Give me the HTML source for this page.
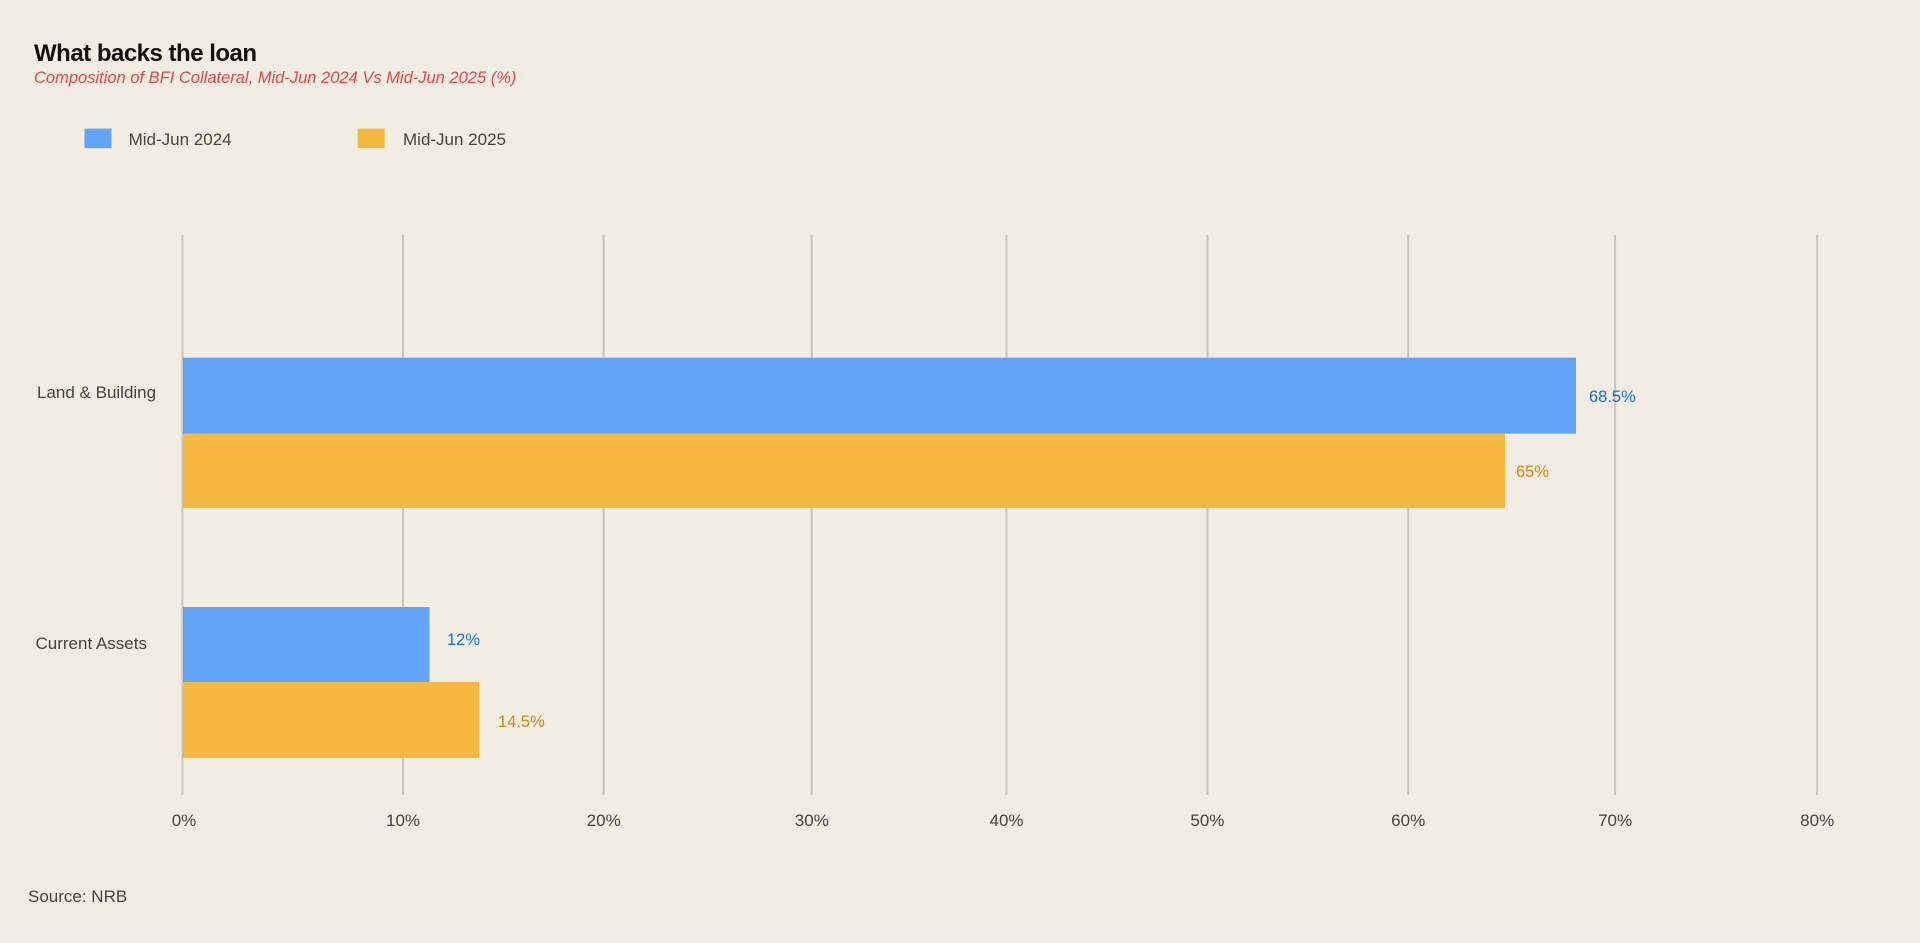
<!DOCTYPE html>
<html><head><meta charset="utf-8"><style>
html,body{margin:0;padding:0;background:#f2ede3;}
body{width:1920px;height:943px;overflow:hidden;position:relative;font-family:"Liberation Sans",sans-serif;}
</style></head><body>
<svg width="1920" height="943" xmlns="http://www.w3.org/2000/svg" style="position:absolute;left:0;top:0">
<rect width="1920" height="943" fill="#f2ede3"/>
<text x="34" y="61" font-family="Liberation Sans" font-weight="bold" font-size="24" fill="#111" letter-spacing="-0.5">What backs the loan</text>
<text x="34" y="83" font-family="Liberation Sans" font-style="italic" font-size="16.5" fill="#e2474b">Composition of BFI Collateral, Mid-Jun 2024 Vs Mid-Jun 2025 (%)</text>
<rect x="84.5" y="128.6" width="27" height="19.5" fill="#62a5f8"/>
<text x="128.6" y="145" font-size="17" fill="#444">Mid-Jun 2024</text>
<rect x="357.6" y="128.6" width="27" height="19.5" fill="#f5b841"/>
<text x="403" y="145" font-size="17" fill="#444">Mid-Jun 2025</text>
<g stroke="#c9c5bd" stroke-width="2">
<line x1="182.5" y1="235" x2="182.5" y2="795"/>
<line x1="403" y1="235" x2="403" y2="795"/>
<line x1="603.7" y1="235" x2="603.7" y2="795"/>
<line x1="811.8" y1="235" x2="811.8" y2="795"/>
<line x1="1006.5" y1="235" x2="1006.5" y2="795"/>
<line x1="1207.4" y1="235" x2="1207.4" y2="795"/>
<line x1="1408.2" y1="235" x2="1408.2" y2="795"/>
<line x1="1615.1" y1="235" x2="1615.1" y2="795"/>
<line x1="1817.2" y1="235" x2="1817.2" y2="795"/>
</g>
<g font-size="17" fill="#444" text-anchor="middle">
<text x="184" y="826">0%</text>
<text x="403" y="826">10%</text>
<text x="603.7" y="826">20%</text>
<text x="811.8" y="826">30%</text>
<text x="1006.5" y="826">40%</text>
<text x="1207.4" y="826">50%</text>
<text x="1408.2" y="826">60%</text>
<text x="1615.1" y="826">70%</text>
<text x="1817.2" y="826">80%</text>
</g>
<rect x="183" y="357.6" width="1393" height="76" fill="#62a5f8"/>
<rect x="183" y="433.5" width="1322" height="74.5" fill="#f5b841"/>
<rect x="183" y="607" width="246.5" height="75" fill="#62a5f8"/>
<rect x="183" y="682" width="296" height="76" fill="#f5b841"/>
<text x="1589" y="402" font-size="16.5" fill="#1a6fdc">68.5%</text>
<text x="1516" y="477" font-size="16.5" fill="#c98a14">65%</text>
<text x="447" y="645" font-size="16.5" fill="#1a6fdc">12%</text>
<text x="498" y="727" font-size="16.5" fill="#c98a14">14.5%</text>
<text x="37" y="398" font-size="17" fill="#444">Land &amp; Building</text>
<text x="35.5" y="649" font-size="17" fill="#444">Current Assets</text>
<text x="28" y="902" font-size="17" fill="#444">Source: NRB</text>
</svg>
</body></html>
